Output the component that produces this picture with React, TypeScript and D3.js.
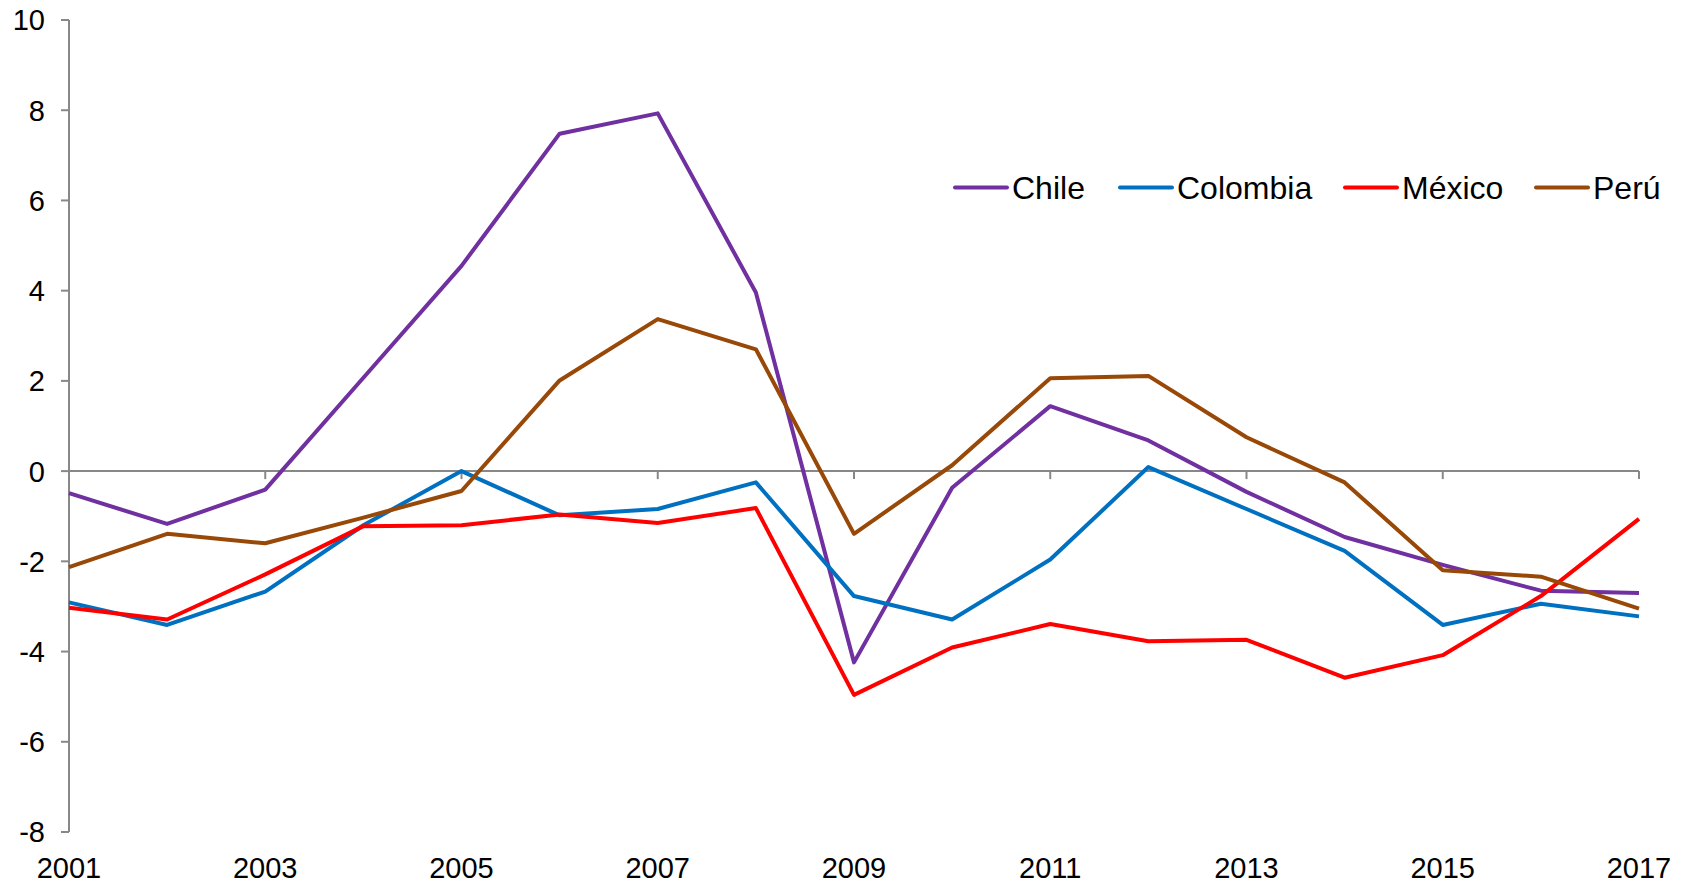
import React from "react";
import * as d3 from "d3";

const years = [2001, 2002, 2003, 2004, 2005, 2006, 2007, 2008, 2009, 2010, 2011, 2012, 2013, 2014, 2015, 2016, 2017];
const chile = [-0.49, -1.17, -0.41, 2.07, 4.55, 7.48, 7.93, 3.96, -4.24, -0.37, 1.44, 0.68, -0.46, -1.46, -2.08, -2.65, -2.70];
const colombia = [-2.91, -3.41, -2.67, -1.2, 0.0, -0.98, -0.84, -0.25, -2.77, -3.29, -1.96, 0.09, -0.84, -1.77, -3.41, -2.94, -3.22];
const mexico = [-3.03, -3.29, -2.29, -1.22, -1.2, -0.96, -1.15, -0.82, -4.96, -3.91, -3.39, -3.77, -3.74, -4.58, -4.08, -2.77, -1.06];
const peru = [-2.13, -1.39, -1.6, -1.03, -0.44, 2.01, 3.37, 2.7, -1.39, 0.13, 2.06, 2.11, 0.75, -0.25, -2.2, -2.34, -3.05];
const seriesNames = ["Chile", "Colombia", "México", "Perú"];
const seriesColors = ["#7030A0", "#0070C0", "#FF0000", "#984807"];
const yTicks = [10, 8, 6, 4, 2, 0, -2, -4, -6, -8];
const xTickLabels = [2001, 2003, 2005, 2007, 2009, 2011, 2013, 2015, 2017];

export default function App() {
  const W = 1687, H = 883;
  const x = d3.scaleLinear().domain([2001, 2017]).range([69, 1639]);
  const y = d3.scaleLinear().domain([-8, 10]).range([832, 20]);
  const allSeries = [chile, colombia, mexico, peru];
  const line = d3.line<number>().x((_, i) => x(years[i])).y((d) => y(d));
  const axisColor = "#888888";
  const font = "Arial, 'Liberation Sans', sans-serif";
  const legendX = [955, 1120, 1345, 1536];
  return (
    <svg width={W} height={H} style={{ position: "absolute", left: 0, top: 0, background: "#fff" }} fontFamily={font}>
      {/* y axis */}
      <line x1={x(2001)} x2={x(2001)} y1={y(10)} y2={y(-8)} stroke={axisColor} strokeWidth={2} />
      {yTicks.map((t) => (
        <g key={t}>
          <line x1={x(2001) - 8} x2={x(2001)} y1={y(t)} y2={y(t)} stroke={axisColor} strokeWidth={2} />
          <text x={45} y={y(t)} dy="0.36em" textAnchor="end" fontSize={29} fill="#000">{t}</text>
        </g>
      ))}
      {/* x axis at zero */}
      <line x1={x(2001)} x2={x(2017)} y1={y(0)} y2={y(0)} stroke={axisColor} strokeWidth={2} />
      {xTickLabels.map((t) => (
        <g key={t}>
          <line x1={x(t)} x2={x(t)} y1={y(0)} y2={y(0) + 8} stroke={axisColor} strokeWidth={2} />
          <text x={x(t)} y={878} textAnchor="middle" fontSize={29} fill="#000">{t}</text>
        </g>
      ))}
      {allSeries.map((s, i) => (
        <path key={i} d={line(s) || ""} fill="none" stroke={seriesColors[i]} strokeWidth={4} strokeLinejoin="round" />
      ))}
      {/* legend */}
      {seriesNames.map((n, i) => (
        <g key={n}>
          <line x1={legendX[i]} x2={legendX[i] + 52} y1={187.5} y2={187.5} stroke={seriesColors[i]} strokeWidth={4} strokeLinecap="round" />
          <text x={legendX[i] + 57} y={187.5} dy="0.36em" fontSize={32} fill="#000">{n}</text>
        </g>
      ))}
    </svg>
  );
}
